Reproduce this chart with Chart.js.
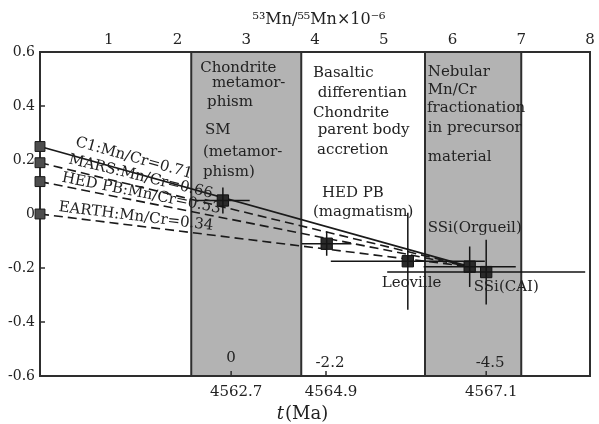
<!DOCTYPE html>
<html><head><meta charset="utf-8">
<script src="https://cdn.jsdelivr.net/npm/chart.js@4.4.0/dist/chart.umd.min.js"></script>
<style>html,body{margin:0;padding:0;background:#fff;}canvas{display:block}</style>
</head><body>
<canvas id="c" width="599" height="424"></canvas>
<script>
// reference reservoirs (present-day values at left axis)
const refNames = ['C1', 'MARS', 'HED PB', 'EARTH'];
const refMnCr = ['0.71', '0.66', '0.53', '0.34'];
const refEps = [0.25, 0.19, 0.12, 0.0];
// samples with error bars (x in 53Mn/55Mn x10^-6 units)
const sampleNames = ['SM', 'HED PB', 'Leoville', 'SSi(Orgueil)', 'SSi(CAI)'];
const sampleX = [2.66, 4.17, 5.35, 6.25, 6.49];
const sampleY = [0.05, -0.11, -0.175, -0.195, -0.215];
const sampleXErr = [0.39, 0.36, 1.12, 0.67, 1.44];
const sampleYErr = [0.048, 0.045, 0.18, 0.075, 0.12];
// axes
const topTicks = [1, 2, 3, 4, 5, 6, 7, 8];
const yTicks = [0.6, 0.4, 0.2, 0, -0.2, -0.4, -0.6];
const timeTickPos = [2.78, 4.16, 6.49];
const timeTickLabels = ['4562.7', '4564.9', '4567.1'];
const deltaTLabels = ['0', '-2.2', '-4.5'];
// shaded bands
const bandStart = [2.2, 5.6];
const bandEnd = [3.8, 7.0];

const F = 'DejaVu Serif';
const TXT = '#222';

const overlay = {
  id: 'overlay',
  beforeDatasetsDraw(chart) {
    const {ctx, chartArea: a, scales: {x, y, x2}} = chart;
    ctx.save();
    ctx.fillStyle = '#b3b3b3';
    ctx.strokeStyle = '#2e2e2e';
    ctx.lineWidth = 2;
    bandStart.forEach((s, i) => {
      const x0 = x.getPixelForValue(s), x1 = x.getPixelForValue(bandEnd[i]);
      ctx.fillRect(x0, a.top, x1 - x0, a.bottom - a.top);
      ctx.beginPath();
      ctx.moveTo(x0, a.top); ctx.lineTo(x0, a.bottom);
      ctx.moveTo(x1, a.top); ctx.lineTo(x1, a.bottom);
      ctx.stroke();
    });
    ctx.strokeRect(a.left, a.top, a.right - a.left, a.bottom - a.top);
    // inner ticks
    ctx.lineWidth = 1.5;
    ctx.beginPath();
    yTicks.forEach(v => {
      if (Math.abs(v) > 0.55) return;
      const py = y.getPixelForValue(v);
      ctx.moveTo(a.left, py); ctx.lineTo(a.left + 5, py);
    });
    timeTickPos.forEach(v => {
      const px = x2.getPixelForValue(v);
      ctx.moveTo(px, a.bottom); ctx.lineTo(px, a.bottom - 5);
    });
    ctx.stroke();
    ctx.restore();
  },
  afterDatasetsDraw(chart) {
    const {ctx, chartArea: a, scales: {x, y, x2}} = chart;
    ctx.save();
    // error bars
    ctx.strokeStyle = '#151515';
    ctx.lineWidth = 1.5;
    ctx.beginPath();
    sampleX.forEach((v, i) => {
      const px = x.getPixelForValue(v), py = y.getPixelForValue(sampleY[i]);
      ctx.moveTo(x.getPixelForValue(v - sampleXErr[i]), py);
      ctx.lineTo(x.getPixelForValue(v + sampleXErr[i]), py);
      ctx.moveTo(px, y.getPixelForValue(sampleY[i] + sampleYErr[i]));
      ctx.lineTo(px, y.getPixelForValue(sampleY[i] - sampleYErr[i]));
    });
    ctx.stroke();

    ctx.fillStyle = TXT;
    ctx.textBaseline = 'middle';
    ctx.textAlign = 'left';
    ctx.font = '15px "' + F + '"';
    const T = (t, dx, dy) => ctx.fillText(t, x.getPixelForValue(dx), y.getPixelForValue(dy));
    // band texts
    T('Chondrite', 2.33, 0.541);
    T('metamor-', 2.50, 0.485);
    T('phism', 2.43, 0.415);
    T('SM', 2.40, 0.311);
    T('(metamor-', 2.37, 0.230);
    T('phism)', 2.37, 0.156);
    T('Basaltic', 3.97, 0.522);
    T('differentian', 4.04, 0.448);
    T('Chondrite', 3.97, 0.374);
    T('parent body', 4.04, 0.311);
    T('accretion', 4.03, 0.237);
    T('Nebular', 5.64, 0.526);
    T('Mn/Cr', 5.64, 0.459);
    T('fractionation', 5.63, 0.393);
    T('in precursor', 5.64, 0.319);
    T('material', 5.64, 0.211);
    // sample labels
    T(sampleNames[1], 4.10, 0.078);
    T('(magmatism)', 3.97, 0.007);
    T(sampleNames[3], 5.64, -0.052);
    T(sampleNames[2], 4.97, -0.256);
    T(sampleNames[4], 6.31, -0.27);

    // rotated reservoir labels along lines
    const along = [1.31, 1.43, 1.45, 1.38];
    const off = [14, 10, 8, 9];
    const x0 = x.getPixelForValue(0);
    const x1 = x.getPixelForValue(sampleX[3]), y1 = y.getPixelForValue(sampleY[3]);
    refNames.forEach((n, i) => {
      const y0 = y.getPixelForValue(refEps[i]);
      const ang = Math.atan2(y1 - y0, x1 - x0);
      const cx = x.getPixelForValue(along[i]);
      const cy = y0 + (cx - x0) * (y1 - y0) / (x1 - x0);
      ctx.save();
      ctx.translate(cx + Math.sin(ang) * off[i], cy - Math.cos(ang) * off[i]);
      ctx.rotate(ang);
      ctx.textAlign = 'center';
      ctx.fillText(n + ':Mn/Cr=' + refMnCr[i], 0, 0);
      ctx.restore();
    });

    // delta t labels
    ctx.textAlign = 'center';
    deltaTLabels.forEach((t, i) => {
      const px = x2.getPixelForValue(timeTickPos[i]) + (i === 0 ? 0 : 4);
      ctx.fillText(t, px, a.bottom - (i === 0 ? 18 : 13));
    });

    // top axis title
    ctx.font = '16px "' + F + '"';
    ctx.fillText('\u2075\u00b3Mn/\u2075\u2075Mn\u00d710\u207b\u2076', (a.left + a.right) / 2 + 4, 20);

    // bottom axis title t(Ma)
    ctx.font = 'italic 18px "' + F + '"';
    const wt = ctx.measureText('t').width;
    ctx.font = '18px "' + F + '"';
    const wm = ctx.measureText('(Ma)').width;
    const sx = 302 - (wt + wm) / 2;
    ctx.textAlign = 'left';
    ctx.font = 'italic 18px "' + F + '"';
    ctx.fillText('t', sx, 414);
    ctx.font = '18px "' + F + '"';
    ctx.fillText('(Ma)', sx + wt + 1, 414);
    ctx.restore();
  }
};

new Chart(document.getElementById('c'), {
  type: 'scatter',
  data: {
    datasets: [
      {label: 'samples', data: sampleX.map((v, i) => ({x: v, y: sampleY[i]})),
       pointStyle: 'rect', pointRadius: 8, pointBackgroundColor: '#2a2a2a', pointBorderColor: '#111', pointBorderWidth: 1, clip: false},
      {label: 'reservoirs', data: refEps.map(v => ({x: 0, y: v})),
       pointStyle: 'rect', pointRadius: 7, pointBackgroundColor: '#4d4d4d', pointBorderColor: '#1a1a1a', pointBorderWidth: 1, clip: false},
      ...refNames.map((n, i) => ({
        label: n,
        data: [{x: 0, y: refEps[i]}, {x: sampleX[3], y: sampleY[3]}],
        showLine: true, pointRadius: 0, borderColor: '#1a1a1a',
        borderWidth: i === 0 ? 1.8 : 1.6, borderDash: i === 0 ? [] : [9, 5], clip: false
      }))
    ]
  },
  options: {
    responsive: false, animation: false,
    layout: {padding: {left: 0, right: 9, top: 0, bottom: 0}},
    plugins: {legend: {display: false}, tooltip: {enabled: false}},
    scales: {
      x: {type: 'linear', position: 'top', min: 0, max: 8,
          grid: {display: false, drawTicks: false}, border: {display: false},
          afterBuildTicks: s => { s.ticks = topTicks.map(v => ({value: v})); },
          ticks: {font: {family: F, size: 15}, color: TXT, padding: 3, autoSkip: false, maxRotation: 0, callback: v => String(v)},
          afterFit: s => { s.height = 52; }},
      x2: {type: 'linear', position: 'bottom', min: 0, max: 8,
          grid: {display: false, drawTicks: false}, border: {display: false},
          afterBuildTicks: s => { s.ticks = timeTickPos.map(v => ({value: v})); },
          ticks: {font: {family: F, size: 15}, color: TXT, padding: 7, labelOffset: 5, autoSkip: false, maxRotation: 0,
                  callback: (v, i) => timeTickLabels[i]},
          afterFit: s => { s.height = 48; }},
      y: {type: 'linear', position: 'left', min: -0.6, max: 0.6,
          grid: {display: false, drawTicks: false}, border: {display: false},
          afterBuildTicks: s => { s.ticks = yTicks.map(v => ({value: v})); },
          ticks: {font: {family: F, size: 14}, color: TXT, padding: 5, autoSkip: false,
                  callback: v => Math.abs(v) < 1e-9 ? '0' : v.toFixed(1)},
          afterFit: s => { s.width = 40; }}
    }
  },
  plugins: [overlay]
});
</script>
</body></html>
